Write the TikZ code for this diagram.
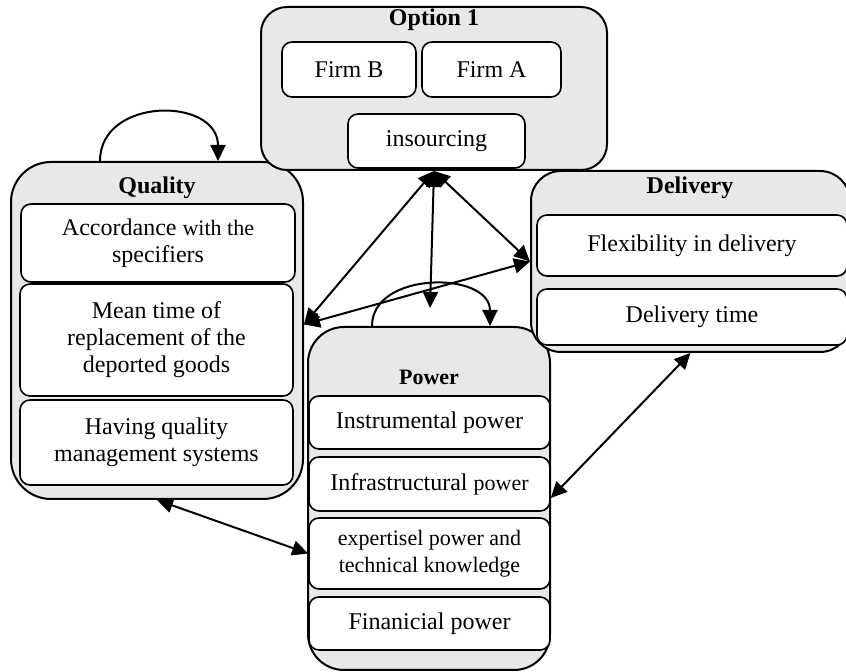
\documentclass[tikz,border=0pt]{standalone}
\usepackage{fontspec}
\setmainfont{Liberation Serif}
\usetikzlibrary{arrows.meta}
\definecolor{boxgray}{HTML}{E8E8E8}
\begin{document}
\begin{tikzpicture}[x=0.5pt,y=-0.5pt,
  groupbox/.style={draw,line width=1pt,fill=boxgray,rounded corners=#1,inner sep=0pt},
  groupbox/.default=14pt,
  itembox/.style={draw,line width=0.8pt,fill=white,rounded corners=5pt,align=center,inner sep=0pt,
    font=\fontsize{12}{13.5}\selectfont},
  titletext/.style={font=\bfseries\fontsize{12}{14}\selectfont,inner sep=0pt},
  link/.style={line width=1pt,{Triangle[length=8pt,width=7.5pt]}-{Triangle[length=8pt,width=7.5pt]}},
  selfloop/.style={line width=1pt,-{Triangle[length=8pt,width=7.5pt]}}]
\useasboundingbox (0,0) rectangle (846,672);
% power
\node[groupbox=18pt,minimum width=121pt,minimum height=171.5pt] (pow) at (429,498.5) {};
\node[titletext,font=\bfseries\fontsize{11}{13}\selectfont] at (429,377) {Power};
\node[itembox,minimum width=120.5pt,minimum height=26.5pt] (instr) at (429.5,422.5) {Instrumental power};
\node[itembox,minimum width=120.5pt,minimum height=27pt] (infra) at (429.5,484) {Infrastructural {\fontsize{11}{13}\selectfont power}};
\node[itembox,minimum width=120.5pt,minimum height=35.5pt,font=\fontsize{11}{13.3}\selectfont] (expert) at (429.5,553.5) {expertisel power and\\technical knowledge};
\node[itembox,minimum width=120.5pt,minimum height=26.5pt] (fin) at (429.5,623.5) {Finanicial power};
% quality
\node[groupbox=20pt,minimum width=146pt,minimum height=168.5pt] (qual) at (157,330.5) {};
\node[titletext] at (157,188) {Quality};
\node[itembox,minimum width=137pt,minimum height=39pt] (acc) at (158,243) {Accordance {\fontsize{11}{13.5}\selectfont with the}\\specifiers};
\node[itembox,minimum width=136.5pt,minimum height=56pt] (mean) at (156.5,340) {Mean time of\\replacement of the\\deported goods};
\node[itembox,minimum width=136.5pt,minimum height=42.5pt] (hav) at (156.5,442.5) {Having quality\\management systems};
% option 1
\node[groupbox=13pt,minimum width=173pt,minimum height=81.5pt] (opt) at (434,88.5) {};
\node[titletext] at (434,20) {Option 1};
\node[itembox,minimum width=67pt,minimum height=27.5pt] (firmB) at (349,69.5) {Firm B};
\node[itembox,minimum width=69.5pt,minimum height=27.5pt] (firmA) at (491.5,69.5) {Firm A};
\node[itembox,minimum width=88.5pt,minimum height=27pt] (insrc) at (436.5,141) {insourcing};
% delivery
\node[groupbox=15pt,minimum width=159.5pt,minimum height=90.5pt] (deliv) at (690.5,261.5) {};
\node[titletext] at (690,188) {Delivery};
\node[itembox,minimum width=155pt,minimum height=30.5pt] (flex) at (692,245.5) {Flexibility in delivery};
\node[itembox,minimum width=155pt,minimum height=28pt] (dtime) at (692,317) {Delivery time};
\coordinate (powtip) at (430,308);
\foreach \g/\l in {qual/1.4,pow/1.2}
  \draw[selfloop] ([xshift=-28.5pt]\g.north) to[out=90,in=90,looseness=\l] ([xshift=30.5pt]\g.north);
\draw[link] (opt.south) -- ([yshift=3pt]qual.east);
\draw[link] (opt.south) -- (deliv.west);
\draw[link] (opt.south) -- (powtip);
\draw[link] ([yshift=3pt]qual.east) -- (deliv.west);
\draw[link] (deliv.south) -- ([yshift=-7pt]infra.east);
\draw[link] (qual.south) -- (expert.west);
\end{tikzpicture}
\end{document}
